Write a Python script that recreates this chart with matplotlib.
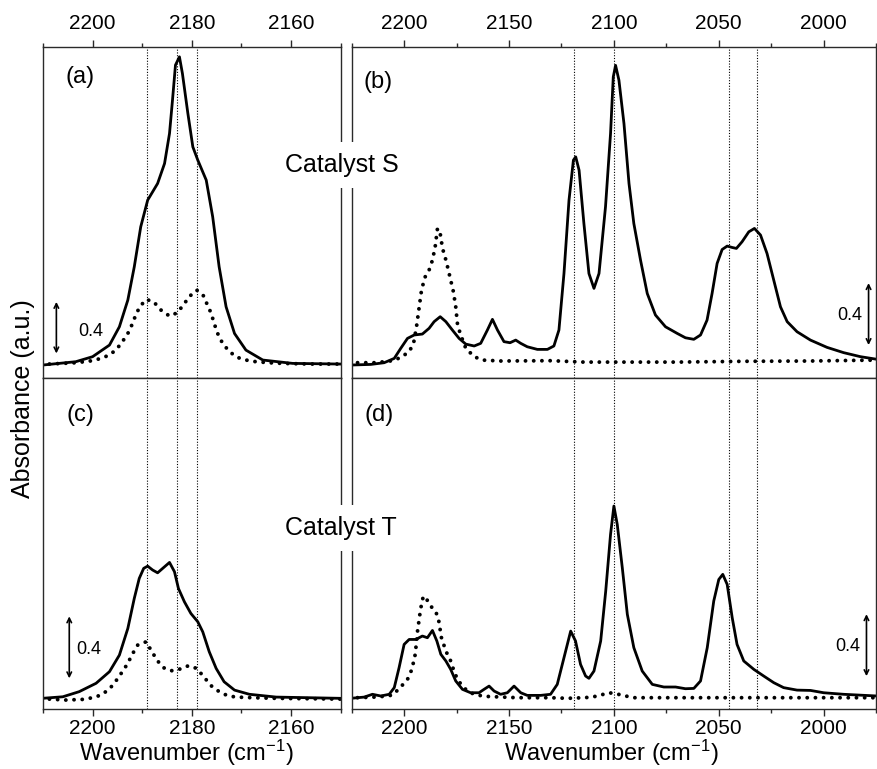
import numpy as np
import matplotlib
matplotlib.use("Agg")
from matplotlib import pyplot as plt
from matplotlib.ticker import MultipleLocator

plt.rcParams["font.family"] = ["Liberation Sans", "DejaVu Sans"]
plt.rcParams["mathtext.default"] = "regular"

# ---- 数据（从图上读出来的） ----
# (a) Catalyst S, 2210-2150
a_solid_wn = [2210.1, 2203.4, 2200.0, 2196.6, 2194.6, 2192.9, 2191.6, 2190.3, 2188.9, 2186.9,
              2185.5, 2184.5, 2183.9, 2183.3, 2182.5, 2181.9, 2180.8, 2179.8, 2178.8, 2177.1,
              2175.8, 2174.5, 2173.1, 2171.4, 2169.1, 2165.7, 2159.7, 2150.1]
a_solid_abs = [0.0, 0.026, 0.065, 0.155, 0.297, 0.504, 0.762, 1.072, 1.279, 1.408,
               1.563, 1.796, 2.054, 2.326, 2.39, 2.261, 1.951, 1.692, 1.589, 1.434,
               1.15, 0.762, 0.452, 0.245, 0.116, 0.039, 0.013, 0.008]
a_dot_wn = [2208.7, 2206.0, 2203.4, 2201.7, 2200.0, 2198.3, 2196.6, 2195.2, 2194.0, 2192.9,
            2192.1, 2191.3, 2190.5, 2189.2, 2187.7, 2186.2, 2184.5, 2182.9, 2181.5, 2180.4,
            2179.0, 2177.6, 2177.0, 2176.1, 2175.5, 2174.8, 2173.8, 2172.4, 2170.8, 2169.1,
            2167.1, 2164.4, 2161.7, 2156.3, 2150.1]
a_dot_abs = [0.008, 0.013, 0.018, 0.026, 0.034, 0.052, 0.078, 0.121, 0.181, 0.245,
             0.31, 0.388, 0.452, 0.509, 0.491, 0.426, 0.38, 0.406, 0.478, 0.535,
             0.581, 0.535, 0.478, 0.401, 0.323, 0.245, 0.168, 0.103, 0.059, 0.039,
             0.026, 0.018, 0.013, 0.008, 0.008]

# (b) Catalyst S, 2225-1975
b_solid_wn = [2225.4, 2215.9, 2209.5, 2204.7, 2201.6, 2198.4, 2195.2, 2191.3, 2188.1, 2185.7,
              2182.8, 2180.1, 2177.0, 2173.8, 2170.6, 2166.6, 2163.5, 2160.3, 2157.9, 2155.5,
              2152.4, 2149.5, 2146.8, 2144.4, 2141.3, 2136.5, 2131.7, 2128.6, 2126.2, 2123.8,
              2121.4, 2119.3, 2118.2, 2116.6, 2114.3, 2111.9, 2109.5, 2107.1, 2104.0, 2101.6,
              2100.3, 2099.2, 2097.6, 2095.2, 2092.8, 2090.5, 2087.3, 2084.1, 2080.2, 2075.4,
              2069.8, 2065.9, 2061.9, 2058.7, 2055.6, 2053.2, 2050.8, 2048.4, 2046.0, 2043.6,
              2041.6, 2038.9, 2035.7, 2033.0, 2030.1, 2027.0, 2023.8, 2020.6, 2017.4, 2012.7,
              2006.3, 1998.4, 1990.5, 1982.5, 1974.6]
b_solid_abs = [0.0, 0.004, 0.015, 0.043, 0.108, 0.172, 0.194, 0.2, 0.237, 0.28,
               0.312, 0.28, 0.226, 0.172, 0.135, 0.123, 0.14, 0.226, 0.295, 0.226,
               0.151, 0.144, 0.161, 0.14, 0.118, 0.101, 0.101, 0.123, 0.226, 0.591,
               1.065, 1.323, 1.344, 1.258, 0.914, 0.591, 0.495, 0.591, 1.022, 1.495,
               1.86, 1.935, 1.839, 1.559, 1.172, 0.914, 0.677, 0.462, 0.323, 0.247,
               0.204, 0.176, 0.166, 0.194, 0.29, 0.462, 0.656, 0.746, 0.768, 0.759,
               0.753, 0.796, 0.86, 0.882, 0.839, 0.72, 0.548, 0.376, 0.28, 0.215,
               0.161, 0.114, 0.08, 0.054, 0.037]
b_dot_wn = [2222.2, 2213.5, 2205.5, 2201.6, 2197.6, 2195.5, 2194.1, 2192.8, 2191.7, 2190.1,
            2188.1, 2186.5, 2185.2, 2184.1, 2182.8, 2181.7, 2180.5, 2179.3, 2177.8, 2176.5,
            2175.4, 2174.6, 2173.3, 2170.6, 2166.6, 2162.7, 2153.9, 2130.1, 2114.3, 2096.8,
            2069.8, 2038.1, 2006.3, 1974.6]
b_dot_abs = [0.015, 0.015, 0.028, 0.049, 0.086, 0.14, 0.247, 0.376, 0.484, 0.566,
             0.613, 0.677, 0.763, 0.882, 0.849, 0.753, 0.699, 0.634, 0.548, 0.473,
             0.376, 0.269, 0.204, 0.108, 0.054, 0.032, 0.026, 0.028, 0.019, 0.019,
             0.019, 0.024, 0.026, 0.032]

# (c) Catalyst T, 2210-2150
c_solid_wn = [2210.1, 2206.0, 2202.7, 2199.3, 2196.6, 2194.6, 2192.9, 2191.6, 2190.6, 2189.7,
              2188.9, 2187.9, 2186.9, 2185.9, 2184.5, 2183.5, 2182.7, 2181.5, 2180.2, 2178.8,
              2177.8, 2176.5, 2175.1, 2173.5, 2171.4, 2168.4, 2163.0, 2150.1]
c_solid_abs = [-0.004, 0.006, 0.039, 0.093, 0.168, 0.275, 0.447, 0.641, 0.77, 0.835,
               0.849, 0.824, 0.806, 0.834, 0.873, 0.813, 0.705, 0.619, 0.544, 0.49,
               0.425, 0.297, 0.189, 0.103, 0.049, 0.022, 0.004, -0.004]
c_dot_wn = [2208.7, 2205.4, 2202.0, 2200.0, 2198.3, 2196.6, 2195.3, 2194.0, 2192.9, 2192.1,
            2190.9, 2189.2, 2188.2, 2186.9, 2185.5, 2184.0, 2182.4, 2180.7, 2179.0, 2177.5,
            2176.1, 2174.5, 2172.8, 2171.1, 2167.7, 2163.0, 2150.1]
c_dot_abs = [-0.009, -0.015, -0.011, 0.0, 0.017, 0.056, 0.108, 0.168, 0.222, 0.275,
             0.34, 0.361, 0.305, 0.237, 0.189, 0.174, 0.185, 0.206, 0.189, 0.131,
             0.077, 0.039, 0.013, 0.004, 0.0, -0.004, -0.009]

# (d) Catalyst T, 2225-1975
d_solid_wn = [2225.4, 2219.0, 2215.1, 2211.1, 2207.1, 2204.7, 2202.4, 2200.0, 2197.6, 2194.4,
              2191.3, 2188.9, 2186.5, 2184.4, 2182.5, 2180.1, 2177.8, 2175.4, 2172.2, 2168.3,
              2164.3, 2161.9, 2159.5, 2157.1, 2154.0, 2150.8, 2147.6, 2144.4, 2141.3, 2134.9,
              2130.2, 2127.0, 2123.8, 2120.6, 2118.3, 2115.9, 2113.5, 2111.9, 2109.5, 2106.3,
              2103.9, 2101.6, 2100.0, 2098.4, 2096.0, 2093.6, 2090.5, 2086.5, 2081.7, 2076.2,
              2070.6, 2065.9, 2061.9, 2058.7, 2055.5, 2052.4, 2050.0, 2048.1, 2046.0, 2043.6,
              2041.3, 2038.1, 2033.3, 2028.6, 2023.8, 2019.1, 2012.7, 2006.3, 2000.0, 1990.5,
              1974.6]
d_solid_abs = [-0.004, 0.004, 0.022, 0.011, 0.022, 0.065, 0.194, 0.344, 0.376, 0.376,
               0.398, 0.387, 0.434, 0.366, 0.28, 0.237, 0.183, 0.108, 0.054, 0.032,
               0.032, 0.054, 0.075, 0.043, 0.022, 0.032, 0.075, 0.032, 0.015, 0.015,
               0.022, 0.086, 0.258, 0.43, 0.366, 0.215, 0.14, 0.125, 0.172, 0.366,
               0.688, 1.054, 1.237, 1.118, 0.839, 0.538, 0.323, 0.172, 0.086, 0.069,
               0.069, 0.058, 0.06, 0.108, 0.323, 0.624, 0.763, 0.796, 0.731, 0.516,
               0.344, 0.237, 0.183, 0.14, 0.097, 0.065, 0.049, 0.047, 0.032, 0.022,
               0.011]
d_dot_wn = [2222.2, 2214.3, 2209.5, 2205.5, 2201.9, 2198.4, 2196.3, 2194.7, 2193.6, 2192.5,
            2191.6, 2190.8, 2189.2, 2187.3, 2184.9, 2183.6, 2182.2, 2180.1, 2177.8, 2176.5,
            2174.6, 2172.2, 2169.8, 2166.6, 2161.9, 2146.0, 2130.2, 2122.2, 2114.3, 2110.3,
            2106.3, 2102.4, 2099.2, 2094.4, 2090.5, 2038.1, 1974.6]
d_dot_abs = [0.0, 0.004, 0.009, 0.017, 0.065, 0.118, 0.183, 0.28, 0.43, 0.538,
             0.613, 0.656, 0.634, 0.591, 0.555, 0.505, 0.387, 0.301, 0.237, 0.183,
             0.118, 0.075, 0.043, 0.022, 0.009, 0.0, 0.0, -0.004, 0.0, 0.004,
             0.017, 0.032, 0.026, 0.011, 0.0, 0.0, 0.0]

left_lines = [2189, 2183, 2179]
right_lines = [2119, 2100, 2045, 2032]

panel_labels = ["(a)", "(b)", "(c)", "(d)"]
catalyst_names = ["Catalyst S", "Catalyst T"]

# ---- 画图 ----
fig = plt.figure(figsize=(8.77, 7.69), dpi=100)

spine_c = "#2a2a2a"
lw_curve = 2.0
dot_style = dict(color="k", lw=2.8, ls=(0, (0.01, 2.1)), dash_capstyle="round")

ax_a = fig.add_axes([0.049, 0.509, 0.3395, 0.430])
ax_b = fig.add_axes([0.401, 0.509, 0.598, 0.430])
ax_c = fig.add_axes([0.049, 0.0776, 0.3395, 0.4314])
ax_d = fig.add_axes([0.401, 0.0776, 0.598, 0.4314])

ax_a.plot(a_solid_wn, a_solid_abs, color="k", lw=lw_curve, solid_joinstyle="round")
ax_a.plot(a_dot_wn, a_dot_abs, **dot_style)
ax_b.plot(b_solid_wn, b_solid_abs, color="k", lw=lw_curve, solid_joinstyle="round")
ax_b.plot(b_dot_wn, b_dot_abs, **dot_style)
ax_c.plot(c_solid_wn, c_solid_abs, color="k", lw=lw_curve, solid_joinstyle="round")
ax_c.plot(c_dot_wn, c_dot_abs, **dot_style)
ax_d.plot(d_solid_wn, d_solid_abs, color="k", lw=lw_curve, solid_joinstyle="round")
ax_d.plot(d_dot_wn, d_dot_abs, **dot_style)

ax_a.set_ylim(-0.097, 2.467)
ax_b.set_ylim(-0.081, 2.054)
ax_c.set_ylim(-0.075, 2.066)
ax_d.set_ylim(-0.075, 2.066)

for ax in [ax_a, ax_c]:
    ax.set_xlim(2210, 2150)
    ax.xaxis.set_major_locator(MultipleLocator(20))
    ax.xaxis.set_minor_locator(MultipleLocator(10))
    for x in left_lines:
        ax.axvline(x, color="k", lw=0.8, ls=(0, (1, 1.5)), zorder=1)
for ax in [ax_b, ax_d]:
    ax.set_xlim(2225, 1975)
    ax.xaxis.set_major_locator(MultipleLocator(50))
    ax.xaxis.set_minor_locator(MultipleLocator(25))
    for x in right_lines:
        ax.axvline(x, color="k", lw=0.8, ls=(0, (1, 1.5)), zorder=1)

for ax in [ax_a, ax_b, ax_c, ax_d]:
    ax.set_yticks([])
    for s in ax.spines.values():
        s.set_color(spine_c)
        s.set_linewidth(1.0)
    ax.tick_params(axis="x", which="major", length=5, width=1.0, color=spine_c,
                   labelsize=15, direction="out")
    ax.tick_params(axis="x", which="minor", length=3, width=1.0, color=spine_c,
                   direction="out")

for ax in [ax_a, ax_b]:
    ax.xaxis.tick_top()
    ax.tick_params(axis="x", which="both", pad=5)
for ax in [ax_c, ax_d]:
    ax.tick_params(axis="x", which="both", pad=2)

# 标签 (a)-(d)
ax_a.text(0.076, 0.909, panel_labels[0], transform=ax_a.transAxes, fontsize=17, va="center")
ax_b.text(0.022, 0.894, panel_labels[1], transform=ax_b.transAxes, fontsize=17, va="center")
ax_c.text(0.078, 0.887, panel_labels[2], transform=ax_c.transAxes, fontsize=17, va="center")
ax_d.text(0.025, 0.887, panel_labels[3], transform=ax_d.transAxes, fontsize=17, va="center")

# 0.4 标尺
def scale_bar(ax, x, y0, xt, yt, ha):
    ax.annotate("", xy=(x, y0), xytext=(x, y0 + 0.4),
                arrowprops=dict(arrowstyle="<->", color="k", lw=1.2,
                                shrinkA=0, shrinkB=0, mutation_scale=8))
    ax.text(xt, yt, "0.4", fontsize=13, ha=ha, va="center")

scale_bar(ax_a, 2207.3, 0.09, 2202.8, 0.26, "left")
scale_bar(ax_b, 1978.6, 0.129, 1981.7, 0.323, "right")
scale_bar(ax_c, 2204.7, 0.125, 2203.2, 0.308, "left")
scale_bar(ax_d, 1979.6, 0.139, 1982.8, 0.333, "right")

# Catalyst 名称，白底遮住中间的竖线
fig.text(0.390, 0.785, catalyst_names[0], fontsize=18, ha="center", va="center",
         bbox=dict(facecolor="white", edgecolor="none", pad=8))
fig.text(0.389, 0.313, catalyst_names[1], fontsize=18, ha="center", va="center",
         bbox=dict(facecolor="white", edgecolor="none", pad=8))

fig.text(0.212, 0.011, r"Wavenumber (cm$^{-1}$)", fontsize=17, ha="center", va="baseline")
fig.text(0.697, 0.011, r"Wavenumber (cm$^{-1}$)", fontsize=17, ha="center", va="baseline")
fig.text(0.0257, 0.481, "Absorbance (a.u.)", fontsize=18, ha="center", va="center",
         rotation=90)

fig.savefig("out.png", dpi=100)
